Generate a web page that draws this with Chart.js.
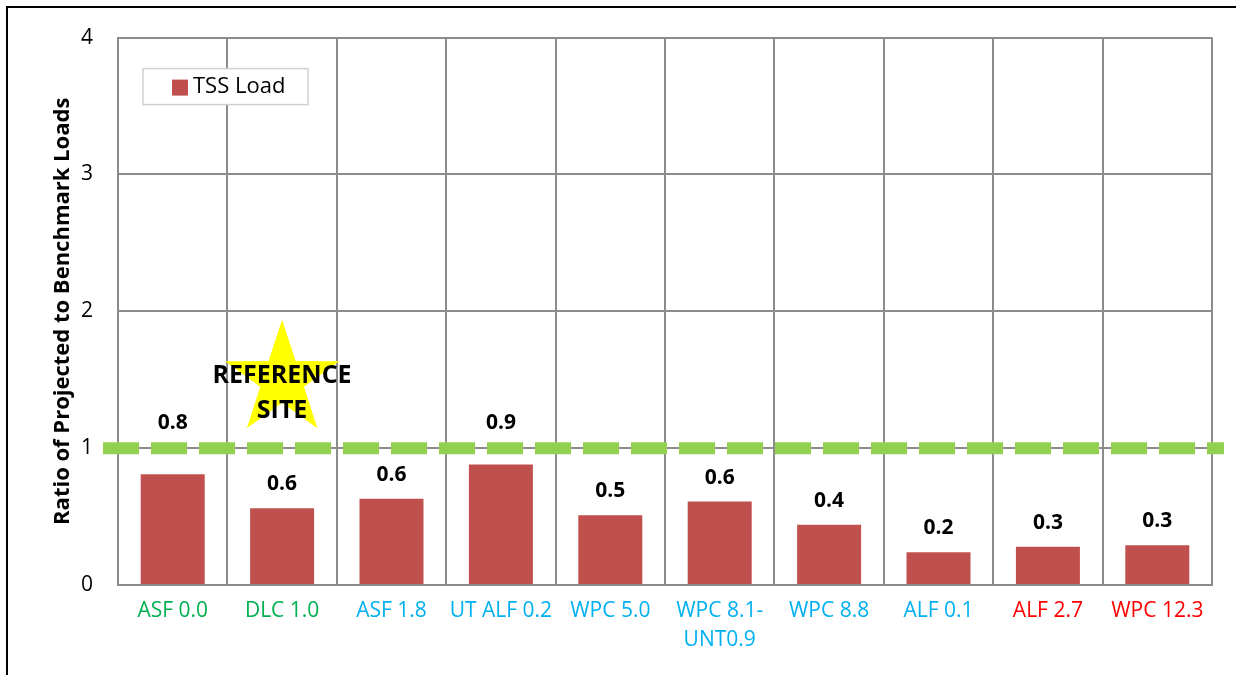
<!DOCTYPE html>
<html>
<head>
<meta charset="utf-8">
<script src="https://cdn.jsdelivr.net/npm/chart.js@4"></script>
<style>
    html, body { margin: 0; padding: 0; background: #fff; overflow: hidden; }
    #marco {
        position: absolute; left: 0; top: 0; width: 1236px; height: 675px;
    }
    #borda {
        position: absolute; left: 6px; top: 6px; width: 1240px; height: 680px;
        border-top: 2px solid #000; border-left: 2px solid #000;
        pointer-events: none;
    }
</style>
</head>
<body>
<div id="marco"><canvas id="grafico" width="1236" height="675"></canvas></div>
<div id="borda"></div>
<script>
// sites and their TSS load ratio
const categorias = ['ASF 0.0', 'DLC 1.0', 'ASF 1.8', 'UT ALF 0.2', 'WPC 5.0', ['WPC 8.1-', 'UNT0.9'], 'WPC 8.8', 'ALF 0.1', 'ALF 2.7', 'WPC 12.3'];
const cargaTSS = [0.81, 0.56, 0.63, 0.88, 0.51, 0.61, 0.44, 0.24, 0.28, 0.29];
const grupoSite = ['ref', 'ref', 'mid', 'mid', 'mid', 'mid', 'mid', 'mid', 'high', 'high'];
const ticksY = [0, 1, 2, 3, 4];
const benchmark = 1;
const siteReferencia = 1;      // index of the reference site
const alturaEstrela = 1.5;     // star centre on the ratio axis

const coresGrupo = { ref: '#00b050', mid: '#00b0f0', high: '#ff0000' };
const fonte = "'Open Sans', sans-serif";

const extras = {
    id: 'extras',
    afterDatasetsDraw(chart) {
        const { ctx, chartArea, scales } = chart;
        const x = scales.x, y = scales.y;
        const yRef = y.getPixelForValue(benchmark);

        // dashed benchmark line
        ctx.save();
        ctx.strokeStyle = '#92d050';
        ctx.lineWidth = 12;
        ctx.setLineDash([36, 12]);
        ctx.beginPath();
        ctx.moveTo(chartArea.left - 15, yRef);
        ctx.lineTo(chartArea.right + 12, yRef);
        ctx.stroke();
        ctx.restore();

        // value labels (moved above the benchmark line when they would hit it)
        ctx.save();
        ctx.font = "bold 21px " + fonte;
        ctx.fillStyle = '#000';
        ctx.textAlign = 'center';
        ctx.textBaseline = 'middle';
        const meta = chart.getDatasetMeta(0);
        meta.data.forEach((bar, i) => {
            let ly = bar.y - 24;
            if (ly < yRef + 18) ly = yRef - 25;
            ctx.fillText(cargaTSS[i].toFixed(1), bar.x, ly);
        });
        ctx.restore();

        // reference site star
        const cx = x.getPixelForValue(siteReferencia);
        const cy = y.getPixelForValue(alturaEstrela);
        const R = 60, r = 23;
        ctx.save();
        ctx.fillStyle = '#ffff00';
        ctx.beginPath();
        for (let k = 0; k < 10; k++) {
            const ang = -Math.PI / 2 + k * Math.PI / 5;
            const rad = k % 2 === 0 ? R : r;
            const px = cx + rad * Math.cos(ang);
            const py = cy + rad * Math.sin(ang);
            if (k === 0) ctx.moveTo(px, py); else ctx.lineTo(px, py);
        }
        ctx.closePath();
        ctx.fill();
        ctx.font = "bold 25px " + fonte;
        ctx.fillStyle = '#000';
        ctx.textAlign = 'center';
        ctx.textBaseline = 'middle';
        ctx.fillText('REFERENCE', cx, cy - 4);
        ctx.fillText('SITE', cx, cy + 31);
        ctx.restore();

        // legend box
        const lx = chartArea.left + 25, ly = chartArea.top + 31;
        ctx.save();
        ctx.fillStyle = '#fff';
        ctx.fillRect(lx, ly, 165, 36);
        ctx.strokeStyle = '#d0d0d0';
        ctx.lineWidth = 1.5;
        ctx.strokeRect(lx, ly, 165, 36);
        ctx.fillStyle = '#c0504d';
        ctx.fillRect(lx + 29, ly + 11, 16, 16);
        ctx.font = "22px " + fonte;
        ctx.fillStyle = '#000';
        ctx.textAlign = 'left';
        ctx.textBaseline = 'middle';
        ctx.fillText(chart.data.datasets[0].label, lx + 50, ly + 18);
        ctx.restore();
    }
};

new Chart(document.getElementById('grafico'), {
    type: 'bar',
    data: {
        labels: categorias,
        datasets: [{
            label: 'TSS Load',
            data: cargaTSS,
            backgroundColor: '#c0504d',
            categoryPercentage: 1,
            barPercentage: 0.585
        }]
    },
    options: {
        responsive: false,
        animation: false,
        layout: { padding: { left: 0, top: 36, right: 24, bottom: 0 } },
        plugins: {
            legend: { display: false },
            tooltip: { enabled: false }
        },
        scales: {
            x: {
                grid: { color: '#8c8c8c', lineWidth: 2, drawTicks: false, offset: true },
                border: { color: '#8c8c8c', width: 2 },
                ticks: {
                    color: (c) => coresGrupo[grupoSite[c.index]],
                    font: { family: fonte, size: 21, lineHeight: 1.4 },
                    padding: 11,
                    maxRotation: 0,
                    autoSkip: false
                },
                afterFit: (s) => { s.height = 90; }
            },
            y: {
                min: ticksY[0],
                max: ticksY[ticksY.length - 1],
                afterBuildTicks: (s) => { s.ticks = ticksY.map(v => ({ value: v })); },
                grid: { color: '#8c8c8c', lineWidth: 2, drawTicks: false },
                border: { color: '#8c8c8c', width: 2 },
                ticks: {
                    color: '#000',
                    font: { family: fonte, size: 21 },
                    padding: 25
                },
                title: {
                    display: true,
                    text: 'Ratio of Projected to Benchmark Loads',
                    color: '#000',
                    font: { family: fonte, size: 22, weight: 'bold' },
                    padding: { top: 50, bottom: 0 }
                },
                afterFit: (s) => { s.width = 118; }
            }
        }
    },
    plugins: [extras]
});
</script>
</body>
</html>
